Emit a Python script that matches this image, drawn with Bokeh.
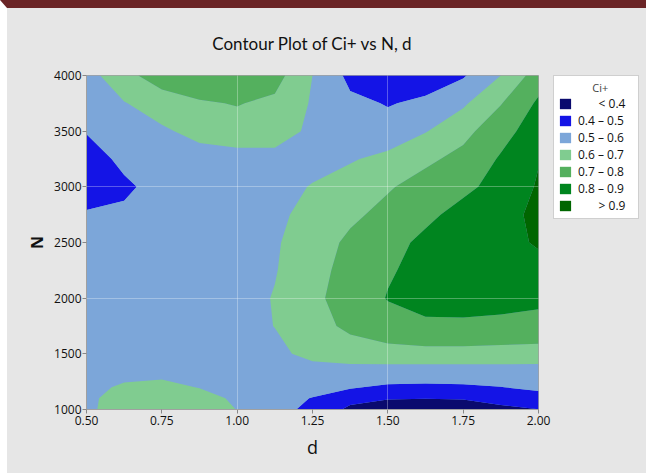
import numpy as np
from bokeh.plotting import figure
from bokeh.layouts import row
from bokeh.models import (Legend, LegendItem, FixedTicker, Grid, NumeralTickFormatter, Range1d,
                          ColumnDataSource)
from bokeh.embed import file_html
from bokeh.resources import INLINE

# ---- data ----
d_values = [0.5, 0.625, 0.75, 0.875, 1.0, 1.125, 1.25, 1.375, 1.5, 1.625, 1.75, 1.875, 2.0]
n_values = [1000, 1100, 1200, 1300, 1400, 1500, 1750, 2000, 2250, 2500, 2750, 3000, 3250, 3500, 3750, 4000]

ci_n1000 = [0.58, 0.65, 0.67, 0.65, 0.598, 0.54, 0.47, 0.38, 0.36, 0.35, 0.36, 0.38, 0.398]
ci_n1100 = [0.58, 0.64, 0.67, 0.655, 0.575, 0.55, 0.495, 0.43, 0.405, 0.402, 0.405, 0.43, 0.46]
ci_n1200 = [0.57, 0.615, 0.635, 0.595, 0.58, 0.56, 0.54, 0.51, 0.48, 0.475, 0.48, 0.498, 0.52]
ci_n1300 = [0.56, 0.58, 0.585, 0.58, 0.57, 0.56, 0.56, 0.56, 0.555, 0.55, 0.555, 0.56, 0.565]
ci_n1400 = [0.55, 0.56, 0.565, 0.565, 0.565, 0.57, 0.585, 0.595, 0.595, 0.595, 0.595, 0.595, 0.595]
ci_n1500 = [0.53, 0.545, 0.55, 0.55, 0.555, 0.575, 0.63, 0.655, 0.665, 0.67, 0.67, 0.665, 0.66]
ci_n1750 = [0.53, 0.54, 0.545, 0.55, 0.56, 0.602, 0.665, 0.72, 0.76, 0.78, 0.78, 0.775, 0.77]
ci_n2000 = [0.53, 0.54, 0.55, 0.555, 0.565, 0.605, 0.68, 0.74, 0.805, 0.84, 0.845, 0.835, 0.82]
ci_n2250 = [0.53, 0.54, 0.55, 0.55, 0.56, 0.595, 0.66, 0.74, 0.79, 0.83, 0.85, 0.86, 0.87]
ci_n2500 = [0.53, 0.54, 0.55, 0.555, 0.56, 0.59, 0.65, 0.72, 0.77, 0.82, 0.85, 0.87, 0.91]
ci_n2750 = [0.51, 0.515, 0.54, 0.55, 0.56, 0.58, 0.63, 0.68, 0.73, 0.78, 0.83, 0.87, 0.92]
ci_n3000 = [0.45, 0.485, 0.53, 0.55, 0.555, 0.57, 0.605, 0.65, 0.69, 0.74, 0.78, 0.83, 0.91]
ci_n3250 = [0.46, 0.52, 0.55, 0.56, 0.56, 0.57, 0.57, 0.59, 0.63, 0.68, 0.73, 0.81, 0.895]
ci_n3500 = [0.505, 0.54, 0.585, 0.63, 0.66, 0.645, 0.58, 0.55, 0.53, 0.595, 0.67, 0.765, 0.85]
ci_n3750 = [0.54, 0.595, 0.65, 0.69, 0.705, 0.68, 0.59, 0.52, 0.495, 0.515, 0.585, 0.695, 0.816]
ci_n4000 = [0.56, 0.67, 0.75, 0.77, 0.78, 0.738, 0.60, 0.475, 0.45, 0.46, 0.49, 0.60, 0.75]

ci_rows = [ci_n1000, ci_n1100, ci_n1200, ci_n1300, ci_n1400, ci_n1500, ci_n1750, ci_n2000,
           ci_n2250, ci_n2500, ci_n2750, ci_n3000, ci_n3250, ci_n3500, ci_n3750, ci_n4000]

levels = [0.3, 0.4, 0.5, 0.6, 0.7, 0.8, 0.9, 1.0]
level_labels = ["\u2007\u2007\u2007<\u00a00.4", "0.4 \u2013 0.5", "0.5 \u2013 0.6", "0.6 \u2013 0.7",
                "0.7 \u2013 0.8", "0.8 \u2013 0.9", "\u2007\u2007\u2007>\u00a00.9"]
band_colors = ["#0A0A6E", "#1414E6", "#7CA6D9", "#80CC90", "#54B05E", "#00851F", "#006600"]

x_ticks = [0.5, 0.75, 1.0, 1.25, 1.5, 1.75, 2.0]
y_ticks = [1000, 1500, 2000, 2500, 3000, 3500, 4000]
x_grid_ticks = [1.0, 1.5]
y_grid_ticks = [2000, 3000]

BG = "#E6E6E6"
FONT = "Open Sans"

fig = figure(width=546, height=465, x_range=(0.5, 2.0), y_range=(1000, 4000),
             output_backend="svg", toolbar_location=None,
             min_border_left=79, min_border_right=15, min_border_top=66, min_border_bottom=64,
             background_fill_color="#7CA6D9", border_fill_color=BG,
             outline_line_color="#A0A0A0", outline_line_width=1)

z = np.array(ci_rows)
cr = fig.contour(x=d_values, y=n_values, z=z, levels=levels,
                 fill_color=band_colors, line_color=None)

# grids
fig.xgrid.visible = False
fig.ygrid.visible = False
gx = Grid(dimension=0, ticker=FixedTicker(ticks=x_grid_ticks), grid_line_color="white",
          grid_line_alpha=0.3, grid_line_width=1, level="annotation")
gy = Grid(dimension=1, ticker=FixedTicker(ticks=y_grid_ticks), grid_line_color="white",
          grid_line_alpha=0.3, grid_line_width=1, level="annotation")
fig.add_layout(gx)
fig.add_layout(gy)

# axes
for ax in (fig.xaxis[0], fig.yaxis[0]):
    ax.axis_line_color = "#A0A0A0"
    ax.major_tick_line_color = "#888888"
    ax.major_tick_out = 4
    ax.major_tick_in = 0
    ax.minor_tick_line_color = None
    ax.major_label_text_font = FONT
    ax.major_label_text_font_size = "12px"
    ax.major_label_text_color = "#111111"
    ax.axis_label_text_font = FONT
    ax.axis_label_text_color = "#111111"

fig.xaxis.major_label_standoff = 2
fig.yaxis.major_label_standoff = 1
fig.xaxis.ticker = FixedTicker(ticks=x_ticks)
fig.xaxis.formatter = NumeralTickFormatter(format="0.00")
fig.yaxis.ticker = FixedTicker(ticks=y_ticks)
fig.yaxis.formatter = NumeralTickFormatter(format="0")
fig.xaxis.axis_label = "d"
fig.xaxis.axis_label_text_font_size = "18px"
fig.xaxis.axis_label_text_font_style = "normal"
fig.xaxis.axis_label_standoff = 7
fig.yaxis.axis_label = "N"
fig.yaxis.axis_label_text_font_size = "16px"
fig.yaxis.axis_label_text_font_style = "bold"
fig.yaxis.axis_label_standoff = 3

# title
fig.title.text = "Contour Plot of Ci+ vs N, d"
fig.title.align = "center"
fig.title.text_font = "Lato"
fig.title.text_font_size = "17px"
fig.title.text_font_style = "normal"
fig.title.text_color = "#111111"
fig.title.standoff = 44
fig.title.offset = 10

# legend panel (separate small figure so the legend is not clipped)
leg_fig = figure(width=93, height=465, x_range=Range1d(10, 11), y_range=Range1d(10, 11),
                 output_backend="svg", toolbar_location=None,
                 min_border_left=0, min_border_right=0, min_border_top=66, min_border_bottom=0,
                 background_fill_color=BG, border_fill_color=BG, outline_line_color=None)
leg_fig.axis.visible = False
leg_fig.grid.visible = False
band_src = ColumnDataSource(dict(lo=levels[:-1], hi=levels[1:], color=band_colors))
swatch = leg_fig.quad(left="lo", right="hi", bottom="lo", top="hi", fill_color="color",
                      line_color=None, source=band_src)
items = [LegendItem(label=lab, renderers=[swatch], index=i) for i, lab in enumerate(level_labels)]
legend = Legend(items=items, location="top_left",
                title="\u2007\u2007\u2007\u2007\u2007\u2008Ci+",
                title_text_font=FONT, title_text_font_size="11px", title_text_font_style="normal",
                title_standoff=0,
                label_text_font=FONT, label_text_font_size="12px", label_text_color="#111111",
                glyph_width=14, glyph_height=13, label_height=13, label_width=56, spacing=0,
                label_standoff=6, padding=4, margin=0,
                border_line_color="#A0A0A0", border_line_width=1,
                background_fill_color="white", background_fill_alpha=1.0)
leg_fig.add_layout(legend, "center")

p = row(fig, leg_fig)
p.styles = {"border-top": "8px solid #6A2426", "border-left": "7px solid white",
            "background-color": BG}

open("out.html", "w").write(file_html(p, INLINE))
